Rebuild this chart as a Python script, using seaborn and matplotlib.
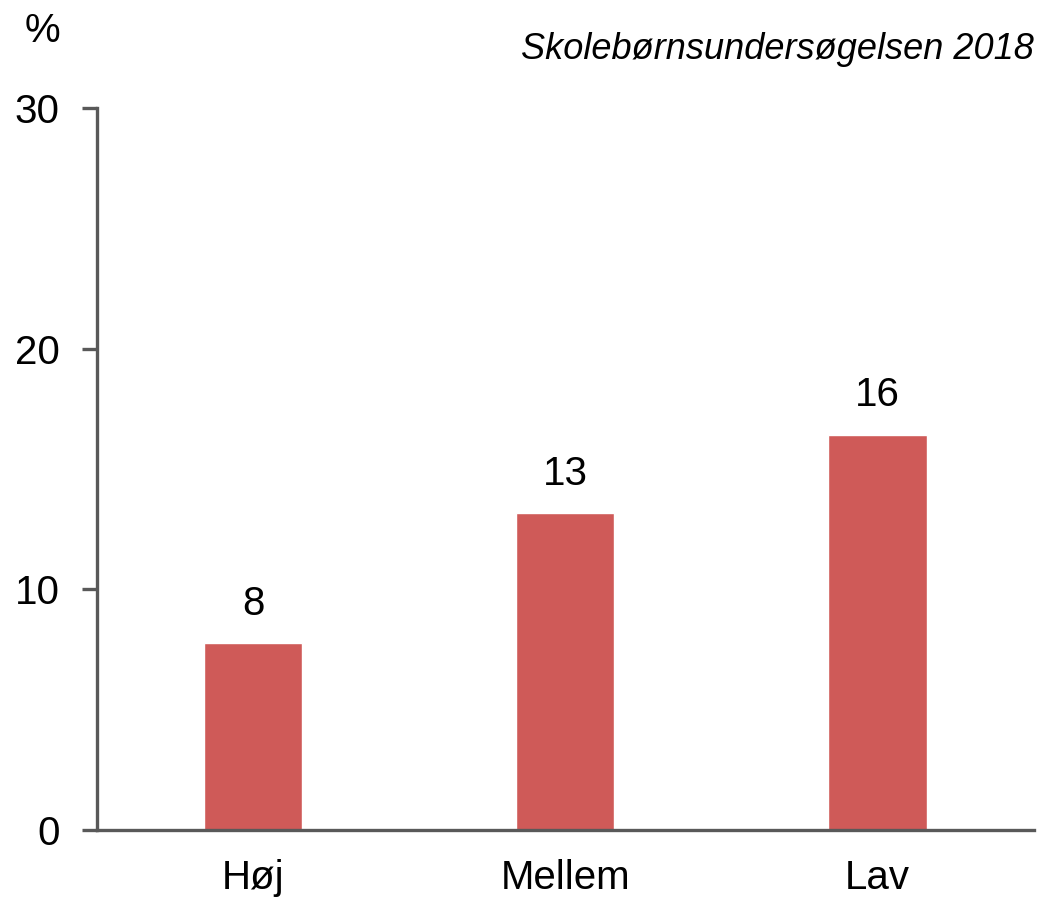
import matplotlib.pyplot as plt
import pandas as pd
import seaborn as sns

categories = ["Høj", "Mellem", "Lav"]
values = [7.75, 13.15, 16.4]

df = pd.DataFrame({"gruppe": categories, "pct": values})

sns.set_style("white")
plt.rcParams['font.family'] = ['Liberation Sans', 'DejaVu Sans']
plt.rcParams['text.color'] = 'black'
plt.rcParams['xtick.color'] = 'black'
plt.rcParams['ytick.color'] = 'black'

fig, ax = plt.subplots(figsize=(10.44, 9), dpi=100)
fig.subplots_adjust(left=0.093, right=0.99, bottom=0.078, top=0.88)

sns.barplot(data=df, x="gruppe", y="pct", color="#CF5A58", width=0.315,
            saturation=1, ax=ax)
ax.bar_label(ax.containers[0], fmt="%.0f", padding=15, fontsize=29)

ax.set_ylim(0, 30)
ax.set_xlim(-0.5, 2.5)
ax.set_yticks([0, 10, 20, 30])
ax.set_xlabel("")
ax.set_ylabel("")
ax.tick_params(axis="y", length=11, width=2.4, color="#595959", labelsize=29,
               labelcolor="black", pad=16, left=True)
ax.tick_params(axis="x", length=0, labelsize=29, labelcolor="black", pad=21)
sns.despine(ax=ax)
for s in ["left", "bottom"]:
    ax.spines[s].set_color("#595959")
    ax.spines[s].set_linewidth(2.4)

fig.text(0.041, 0.966, "%", fontsize=29, ha="center", va="center")
fig.text(0.99, 0.945, "Skolebørnsundersøgelsen 2018", fontsize=26, style="italic",
         ha="right", va="center")

plt.savefig("out.png")
